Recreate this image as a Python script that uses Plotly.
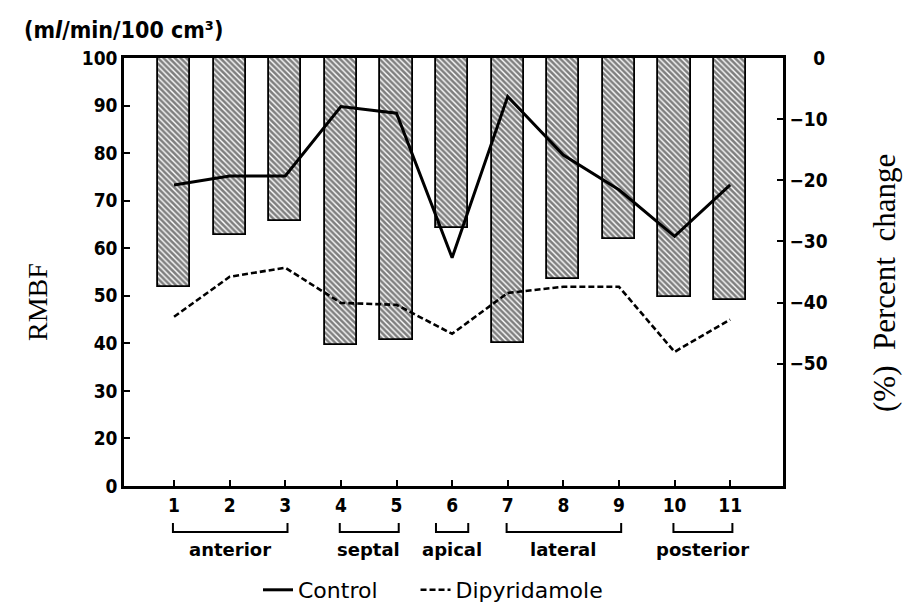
import plotly.graph_objects as go

# ---- data ----
segments = [1, 2, 3, 4, 5, 6, 7, 8, 9, 10, 11]
percent_change = [-37.4, -28.9, -26.6, -46.9, -46.1, -27.8, -46.6, -36.1, -29.6, -39.1, -39.5]
control = [73.3, 75.2, 75.2, 89.8, 88.4, 58.0, 91.9, 79.6, 72.3, 62.5, 73.3]
dipyridamole = [45.6, 54.0, 55.9, 48.5, 48.1, 42.0, 50.6, 51.9, 51.9, 38.2, 45.0]

left_tickvals = [10, 20, 30, 40, 50, 60, 70, 80, 90, 100]
left_ticktext = ["0", "20", "30", "40", "50", "60", "70", "80", "90", "100"]
right_tickvals = [0, -10, -20, -30, -40, -50]
right_ticktext = ["\u2007\u20070", "\u221210", "\u221220", "\u221230", "\u221240", "\u221250"]

group_names = ["anterior", "septal", "apical", "lateral", "posterior"]
group_start = [1, 4, 6, 7, 10]
group_end = [3, 5, 6, 9, 11]

COND = "DejaVu Sans Condensed, DejaVu Sans, sans-serif"
SANS = "DejaVu Sans, sans-serif"
SERIF = "Liberation Serif, DejaVu Serif, serif"

fig = go.Figure()

# bars on the percent-change axis (primary y, drawn right side)
fig.add_trace(go.Bar(
    x=segments, y=percent_change, yaxis="y", width=0.58,
    marker=dict(color="white", line=dict(color="black", width=1.8),
                pattern=dict(shape="\\", fgcolor="black", bgcolor="white",
                             size=4, solidity=0.65)),
    showlegend=False, hoverinfo="skip"))

# lines on the RMBF axis (overlaid, drawn left side, on top of bars)
fig.add_trace(go.Scatter(
    x=segments, y=control, mode="lines", name="Control\u2003\u2002", yaxis="y2",
    line=dict(color="black", width=3)))
fig.add_trace(go.Scatter(
    x=segments, y=dipyridamole, mode="lines", name="Dipyridamole", yaxis="y2",
    line=dict(color="black", width=2.6, dash="6px,3px")))


def py(pix):
    return (486 - pix) / 428.0


def px(pix):
    return (pix - 124) / 659.0


for name, a, b in zip(group_names, group_start, group_end):
    if a != b:
        x0, x1 = a - 0.02, b + 0.04
    else:
        x0, x1 = a - 0.29, b + 0.29
    fig.add_shape(type="path", xref="x", yref="paper",
                  path=f"M {x0},{py(523)} L {x0},{py(532)} L {x1},{py(532)} L {x1},{py(523)}",
                  line=dict(color="black", width=2))
    fig.add_annotation(x=(a + b) / 2, y=py(549), xref="x", yref="paper",
                       text=name, showarrow=False,
                       font=dict(family=SANS, size=18, color="black", weight="bold"),
                       xanchor="center", yanchor="middle")

fig.add_annotation(x=px(22), y=py(30), xref="paper", yref="paper",
                   text="(m<i>l</i>/min/100 cm\u00b3)",
                   showarrow=False, xanchor="left", yanchor="middle",
                   font=dict(family=COND, size=23, color="black", weight="bold"))
fig.add_annotation(x=px(37), y=py(302), xref="paper", yref="paper",
                   text="RMBF", textangle=-90, showarrow=False,
                   font=dict(family=SERIF, size=28, color="black"),
                   xanchor="center", yanchor="middle")
fig.add_annotation(x=px(884), y=py(283), xref="paper", yref="paper",
                   text="(%)  Percent  change", textangle=-90, showarrow=False,
                   font=dict(family=SERIF, size=31, color="black"),
                   xanchor="center", yanchor="middle")

tickfont = dict(family=COND, size=19, color="black", weight="bold")

fig.update_layout(
    width=922, height=606,
    margin=dict(l=124, r=139, t=58, b=120, autoexpand=False),
    paper_bgcolor="white", plot_bgcolor="white",
    bargap=0,
    xaxis=dict(range=[0.1, 11.95], tickvals=segments, ticktext=[str(s) for s in segments],
               ticks="inside", ticklen=6, tickwidth=2, tickcolor="black",
               showline=True, linecolor="black", linewidth=2.5, mirror=True,
               showgrid=False, zeroline=False, tickfont=tickfont),
    yaxis=dict(range=[-70, 0], tickvals=right_tickvals, ticktext=right_ticktext,
               side="right",
               ticks="inside", ticklen=6, tickwidth=2, tickcolor="black",
               showline=True, linecolor="black", linewidth=2.5,
               showgrid=False, zeroline=False, tickfont=tickfont),
    yaxis2=dict(range=[10, 100], tickvals=left_tickvals, ticktext=left_ticktext,
                overlaying="y", side="left",
                ticks="inside", ticklen=6, tickwidth=2, tickcolor="black",
                showline=True, linecolor="black", linewidth=2.5,
                showgrid=False, zeroline=False, tickfont=tickfont),
    legend=dict(orientation="h", x=px(258), xanchor="left", y=py(590), yanchor="middle",
                font=dict(family=SANS, size=22, color="black"),
                bgcolor="rgba(0,0,0,0)", itemwidth=30),
)

fig.write_html("out.html", config={"displayModeBar": False},
               post_script="document.body.style.margin='0';document.body.style.overflow='hidden';")
